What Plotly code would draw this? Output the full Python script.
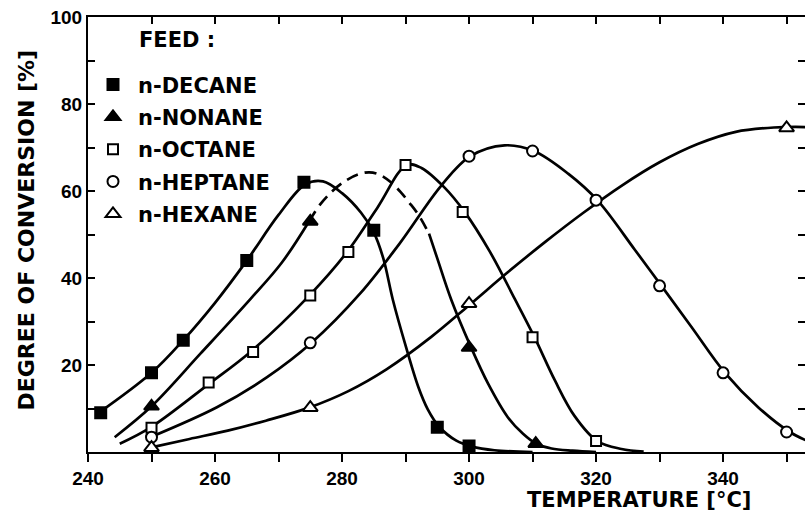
import plotly.graph_objects as go

# Measured points (temperature in degC, conversion in %)
decane_t = [242, 250, 255, 265, 274, 285, 295, 300]
decane_c = [9, 18.2, 25.7, 44, 62, 51, 5.7, 1.4]
nonane_t = [250, 275, 300, 310.5]
nonane_c = [10.5, 53, 24, 1.9]
octane_t = [250, 259, 266, 275, 281, 290, 299, 310, 320]
octane_c = [5.6, 16, 23, 36, 46, 66, 55.2, 26.4, 2.5]
heptane_t = [250, 275, 300, 310, 320, 330, 340, 350]
heptane_c = [3.4, 25.1, 68, 69.2, 57.9, 38.2, 18.2, 4.6]
hexane_t = [250, 275, 300, 350]
hexane_c = [1, 10.2, 34.1, 74.5]

# Hand-fitted curves through the measurements
decane_fit_t = [241.7, 250, 255, 260, 265, 270, 274.2, 277, 280, 283, 285, 286.5, 288,
                290, 292, 293.5, 295.3, 298, 300.4, 304, 310]
decane_fit_c = [9, 18.2, 25.7, 34.3, 44, 54.5, 61.5, 62.2, 59.5, 55, 50.5, 44.5, 35,
                24.5, 15, 9.8, 5.8, 2.6, 1.3, 0.4, 0]
nonane_fit_t = [244.2, 250, 257.7, 265.6, 270.5, 274.8]
nonane_fit_c = [3.4, 10.5, 22.6, 35.2, 43.5, 53]
nonane_dash_t = [274.8, 276.5, 278.5, 280.5, 282.5, 284.3, 286, 287.7, 289.2, 290.6, 292, 293.7]
nonane_dash_c = [53, 56.8, 60, 62.3, 63.8, 64.3, 63.7, 62, 59.8, 57.3, 54.6, 50.2]
nonane_tail_t = [293.7, 295, 297.2, 300.3, 303, 306.1, 308.5, 310.6, 313, 316.3, 320]
nonane_tail_c = [50.2, 44.5, 35, 24.1, 15.7, 8, 4.2, 1.9, 0.8, 0.3, 0]
octane_fit_t = [245, 249.8, 258.9, 265.8, 274.8, 280.7, 285.5, 290.2, 292.5, 296, 299.3,
                303.3, 307.2, 310.3, 313.5, 316.6, 320.2, 324, 327.5]
octane_fit_c = [1.9, 5.6, 15.5, 23.3, 35.9, 45.8, 56, 66, 65.3, 61, 55.2,
                46, 35.2, 26.4, 16.5, 8.3, 2.5, 0.7, 0.1]
heptane_fit_t = [249.8, 260.3, 268.2, 275.2, 282.9, 289, 295.6, 300.2, 305.6, 310.2,
                 315.6, 320.2, 326.1, 330.3, 335, 340.3, 345.6, 350.5, 353.2]
heptane_fit_c = [3.4, 10.3, 17.2, 25.1, 36.5, 47.8, 61.2, 68, 70.5, 69.2,
                 64, 57.9, 46.5, 38.2, 28.8, 18.2, 10.2, 4.6, 2.6]
hexane_fit_t = [249.8, 256, 262, 268, 274.8, 281, 287, 294, 300.3, 306, 312, 318,
                324, 330, 336, 342, 348, 353.2]
hexane_fit_c = [1, 3.0, 4.9, 7.2, 10.2, 14.0, 19.0, 26.4, 34.1, 41.2, 48.3, 55.0,
                61.2, 66.6, 70.8, 73.6, 74.6, 74.7]

x_tick_labels = [240, 260, 280, 300, 320, 340]
y_tick_labels = [20, 40, 60, 80, 100]

INK = "black"
LINE_W = 2.7
label_font = dict(family="DejaVu Sans", size=21, color=INK, weight="bold")
title_font = dict(family="DejaVu Sans", size=22, color=INK, weight="bold")
tick_font = dict(family="Liberation Sans", size=19, color=INK, weight="bold")

fig = go.Figure()

curves = [
    (decane_fit_t, decane_fit_c, "solid"),
    (nonane_fit_t, nonane_fit_c, "solid"),
    (nonane_dash_t, nonane_dash_c, "12px,7px"),
    (nonane_tail_t, nonane_tail_c, "solid"),
    (octane_fit_t, octane_fit_c, "solid"),
    (heptane_fit_t, heptane_fit_c, "solid"),
    (hexane_fit_t, hexane_fit_c, "solid"),
]
for t, c, dash in curves:
    fig.add_trace(go.Scatter(
        x=t, y=c, mode="lines", showlegend=False, hoverinfo="skip",
        line=dict(color=INK, width=LINE_W, shape="spline", smoothing=1.0, dash=dash),
    ))

series = [
    ("n-DECANE", decane_t, decane_c, "square", INK, 11),
    ("n-NONANE", nonane_t, nonane_c, "triangle-up", INK, 13),
    ("n-OCTANE", octane_t, octane_c, "square", "white", 10),
    ("n-HEPTANE", heptane_t, heptane_c, "circle", "white", 11),
    ("n-HEXANE", hexane_t, hexane_c, "triangle-up", "white", 13),
]
for name, t, c, symbol, fill, size in series:
    fig.add_trace(go.Scatter(
        x=t, y=c, mode="markers", name=name, legendgroup=name,
        marker=dict(symbol=symbol, size=size, color=fill,
                    line=dict(color=INK, width=2)),
    ))

fig.update_layout(
    width=805, height=515,
    margin=dict(l=88, r=0, t=17, b=63),
    paper_bgcolor="white", plot_bgcolor="white",
    showlegend=True,
    legend=dict(x=0.0, y=0.891, xanchor="left", yanchor="top",
                font=label_font, bgcolor="rgba(0,0,0,0)", borderwidth=0,
                itemwidth=40, tracegroupgap=2, traceorder="grouped"),
    xaxis=dict(
        range=[240, 352.9], showline=True, linecolor=INK, linewidth=2,
        showgrid=False, zeroline=False,
        tickmode="array", tickvals=x_tick_labels, ticktext=[str(v) for v in x_tick_labels],
        ticks="outside", ticklen=8, tickwidth=2, tickcolor=INK, tickfont=tick_font,
        minor=dict(dtick=10, tick0=240, ticks="outside", ticklen=8, tickwidth=2, tickcolor=INK),
    ),
    xaxis2=dict(
        overlaying="x", side="top", range=[240, 352.9], showline=True, linecolor=INK,
        linewidth=2, showgrid=False, zeroline=False, showticklabels=False,
        tickmode="linear", tick0=240, dtick=10, ticks="inside", ticklen=7,
        tickwidth=2, tickcolor=INK,
    ),
    yaxis=dict(
        range=[0, 100], showline=True, linecolor=INK, linewidth=2,
        showgrid=False, zeroline=False,
        tickmode="array", tickvals=y_tick_labels, ticktext=[str(v) for v in y_tick_labels],
        ticks="inside", ticklen=7, tickwidth=2, tickcolor=INK, tickfont=tick_font,
        minor=dict(dtick=10, tick0=0, ticks="inside", ticklen=7, tickwidth=2, tickcolor=INK),
    ),
    yaxis2=dict(
        overlaying="y", side="right", range=[0, 100], showline=False,
        showgrid=False, zeroline=False, showticklabels=False,
        tickmode="linear", tick0=10, dtick=10, ticks="inside", ticklen=7,
        tickwidth=2, tickcolor=INK,
    ),
    annotations=[
        dict(text="FEED :", xref="paper", yref="paper", x=0.068, y=0.946,
             xanchor="left", yanchor="middle", showarrow=False, font=label_font),
        dict(text="DEGREE OF CONVERSION [%]", xref="paper", yref="paper",
             x=-0.086, y=0.51, xanchor="center", yanchor="middle",
             textangle=-90, showarrow=False, font=title_font),
        dict(text="TEMPERATURE [°C]", xref="paper", yref="paper",
             x=0.768, y=-0.111, xanchor="center", yanchor="middle",
             showarrow=False, font=label_font),
    ],
)

# invisible anchors so the mirrored top/right tick axes are drawn
fig.add_trace(go.Scatter(x=[240], y=[0], xaxis="x2", yaxis="y2", mode="markers",
                         marker=dict(opacity=0), showlegend=False, hoverinfo="skip"))

fig.write_html("out.html")
